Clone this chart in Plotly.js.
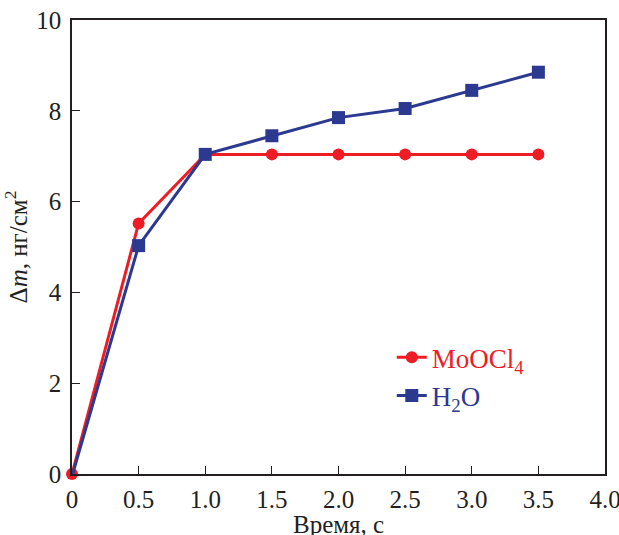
<!DOCTYPE html>
<html><head><meta charset="utf-8">
<script src="https://cdn.plot.ly/plotly-3.0.1.min.js"></script>
<style>body{margin:0;background:#fff}#chart{width:619px;height:535px}</style>
</head><body><div id="chart"></div>
<script>
const timeMoOCl4 = [0, 0.5, 1.0, 1.5, 2.0, 2.5, 3.0, 3.5];
const dmMoOCl4   = [0, 5.52, 7.04, 7.04, 7.04, 7.04, 7.04, 7.04];
const timeH2O    = [0, 0.5, 1.0, 1.5, 2.0, 2.5, 3.0, 3.5];
const dmH2O      = [-0.05, 5.03, 7.04, 7.45, 7.85, 8.05, 8.45, 8.85];
const xTicks = [0, 0.5, 1.0, 1.5, 2.0, 2.5, 3.0, 3.5, 4.0];
const xTickLabels = ['0', '0.5', '1.0', '1.5', '2.0', '2.5', '3.0', '3.5', '4.0'];
const yTicks = [0, 2, 4, 6, 8, 10];
const xTitle = 'Время, с';
const yTitle = 'Δ<i>m</i>, нг/см<sup>2</sup>';

const red = '#ee1c25', blue = '#2b3990';
const font = 'Liberation Serif';
const fs = 25;

const traces = [
  {x: timeMoOCl4, y: dmMoOCl4, mode: 'lines+markers', name: '<span style="color:'+red+'">MoOCl<sub>4</sub></span>',
   line: {color: red, width: 3}, marker: {symbol: 'circle', size: 12, color: red}, cliponaxis: false},
  {x: timeH2O, y: dmH2O, mode: 'lines+markers', name: '<span style="color:'+blue+'">H<sub>2</sub>O</span>',
   line: {color: blue, width: 3}, marker: {symbol: 'square', size: 13, color: blue}, cliponaxis: false}
];

const layout = {
  width: 619, height: 535,
  margin: {l: 72, r: 14, t: 20, b: 61},
  paper_bgcolor: '#fff', plot_bgcolor: '#fff',
  font: {family: font, size: fs, color: '#231f20'},
  showlegend: true,
  legend: {x: 0.6, y: 0.31, xanchor: 'left', yanchor: 'top', bgcolor: 'rgba(0,0,0,0)',
           font: {family: font, size: 27}, tracegroupgap: 0},
  xaxis: {range: [0, 4.0], tickvals: xTicks, ticktext: xTickLabels, ticks: 'inside', ticklen: 8,
          tickcolor: '#231f20', showline: true, linecolor: '#231f20', linewidth: 1.5, mirror: true,
          showgrid: false, zeroline: false, ticklabeloverflow: 'allow', ticklabelstandoff: 2,
          tickfont: {family: font, size: fs, color: '#231f20'}},
  yaxis: {range: [0, 10], tickvals: yTicks, ticks: 'inside', ticklen: 8,
          tickcolor: '#231f20', showline: true, linecolor: '#231f20', linewidth: 1.5, mirror: true,
          showgrid: false, zeroline: false, ticklabelstandoff: 4,
          tickfont: {family: font, size: fs, color: '#231f20'},
          title: {text: yTitle, font: {family: font, size: fs}, standoff: 6}},
  annotations: [{text: xTitle, xref: 'paper', yref: 'paper', x: 0.5, y: -0.111,
                 xanchor: 'center', yanchor: 'middle', showarrow: false,
                 font: {family: font, size: fs, color: '#231f20'}}]
};
Plotly.newPlot('chart', traces, layout, {displayModeBar: false});
</script></body></html>
